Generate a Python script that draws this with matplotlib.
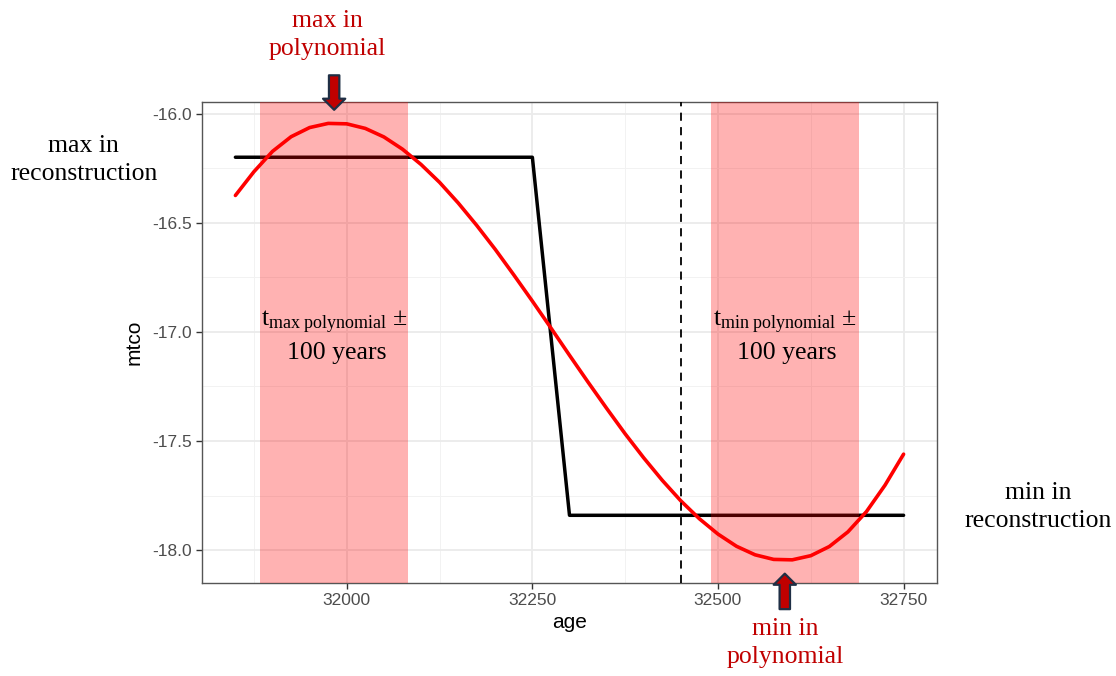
import numpy as np
import matplotlib.pyplot as plt
from matplotlib.ticker import MultipleLocator, FormatStrFormatter

plt.rcParams['font.family'] = 'Liberation Sans'
plt.rcParams['axes.unicode_minus'] = False
plt.rcParams['mathtext.fontset'] = 'custom'
plt.rcParams['mathtext.rm'] = 'Liberation Serif'
plt.rcParams['mathtext.it'] = 'Liberation Serif:italic'

# reconstruction (step) and fitted polynomial
recon_age = [31850, 32250, 32300, 32750]
recon_mtco = [-16.20, -16.20, -17.84, -17.84]

poly_age = [31850, 31875, 31900, 31925, 31950, 31975, 32000, 32025, 32050, 32075,
            32100, 32125, 32150, 32175, 32200, 32225, 32250, 32275, 32300, 32325,
            32350, 32375, 32400, 32425, 32450, 32475, 32500, 32525, 32550, 32575,
            32600, 32625, 32650, 32675, 32700, 32725, 32750]
poly_mtco = [-16.375, -16.266, -16.173, -16.106, -16.064, -16.045, -16.047, -16.068, -16.107, -16.163,
             -16.233, -16.315, -16.409, -16.512, -16.622, -16.739, -16.859, -16.982, -17.107, -17.230,
             -17.350, -17.467, -17.577, -17.680, -17.774, -17.856, -17.926, -17.982, -18.021, -18.042,
             -18.044, -18.025, -17.983, -17.916, -17.823, -17.702, -17.560]

t_max_poly = 31983
t_min_poly = 32590
max_poly_val = -16.04
min_poly_val = -18.05
half_window = 100
split_age = 32450

serif = 'Liberation Serif'
dark_red = '#C00000'
navy = '#1F2F45'

fig = plt.figure(figsize=(11.16, 6.76), dpi=100)
ax = fig.add_axes([0.181, 0.1376, 0.6586, 0.7115])

ax.plot(recon_age, recon_mtco, color='black', lw=2.5, zorder=2, solid_capstyle='round')
ax.axvspan(t_max_poly - half_window, t_max_poly + half_window, color='red', alpha=0.3, lw=0, zorder=3)
ax.axvspan(t_min_poly - half_window, t_min_poly + half_window, color='red', alpha=0.3, lw=0, zorder=3)
ax.plot(poly_age, poly_mtco, color='red', lw=2.6, zorder=4, solid_capstyle='round')
ax.axvline(split_age, color='black', lw=1.3, ls=(0, (4.5, 3.5)), zorder=4)

ax.set_xlim(31805, 32795)
ax.set_ylim(-18.15, -15.947)
ax.xaxis.set_major_locator(MultipleLocator(250))
ax.xaxis.set_minor_locator(MultipleLocator(125))
ax.yaxis.set_major_locator(MultipleLocator(0.5))
ax.yaxis.set_minor_locator(MultipleLocator(0.25))
ax.yaxis.set_major_formatter(FormatStrFormatter('%.1f'))
ax.grid(which='major', color='#EBEBEB', lw=1.3, zorder=0)
ax.grid(which='minor', color='#F2F2F2', lw=0.7, zorder=0)
ax.set_axisbelow(True)
ax.tick_params(which='major', length=4, width=1, color='#333333', labelsize=12.5, labelcolor='#4D4D4D')
ax.tick_params(which='minor', length=0)
for s in ax.spines.values():
    s.set_color('#555555')
    s.set_linewidth(1)
ax.set_xlabel('age', fontsize=15, labelpad=3)
ax.set_ylabel('mtco', fontsize=15, labelpad=6)

# window labels
for t, name in [(t_max_poly, 'max'), (t_min_poly, 'min')]:
    ax.text(t, -16.955, r'$\mathrm{t}_{\mathrm{%s\ polynomial}}$ ±' % name, fontsize=18.5,
            family=serif, ha='center', va='center', zorder=5)
    ax.text(t + 3, -17.095, '100 years', fontsize=18.5, family=serif,
            ha='center', va='center', zorder=5)

# block arrows
arrow = dict(arrowstyle='simple,head_length=0.8,head_width=1.6,tail_width=0.75',
             fc=dark_red, ec=navy, lw=1.6, shrinkA=0, shrinkB=9, mutation_scale=10)
ax.annotate('', xy=(t_max_poly, max_poly_val), xytext=(0, 47), textcoords='offset pixels',
            arrowprops=arrow, annotation_clip=False)
ax.annotate('', xy=(t_min_poly, min_poly_val), xytext=(0, -48), textcoords='offset pixels',
            arrowprops=arrow, annotation_clip=False)

fig.text(0.293, 0.948, 'max in\npolynomial', fontsize=18.5, family=serif, color=dark_red,
         ha='center', va='center', linespacing=1.35)
fig.text(0.7034, 0.049, 'min in\npolynomial', fontsize=18.5, family=serif, color=dark_red,
         ha='center', va='center', linespacing=1.35)
fig.text(0.075, 0.763, 'max in\nreconstruction', fontsize=18.5, family=serif,
         ha='center', va='center', linespacing=1.35)
fig.text(0.9306, 0.25, 'min in\nreconstruction', fontsize=18.5, family=serif,
         ha='center', va='center', linespacing=1.35)

fig.savefig('out.png', dpi=100)
